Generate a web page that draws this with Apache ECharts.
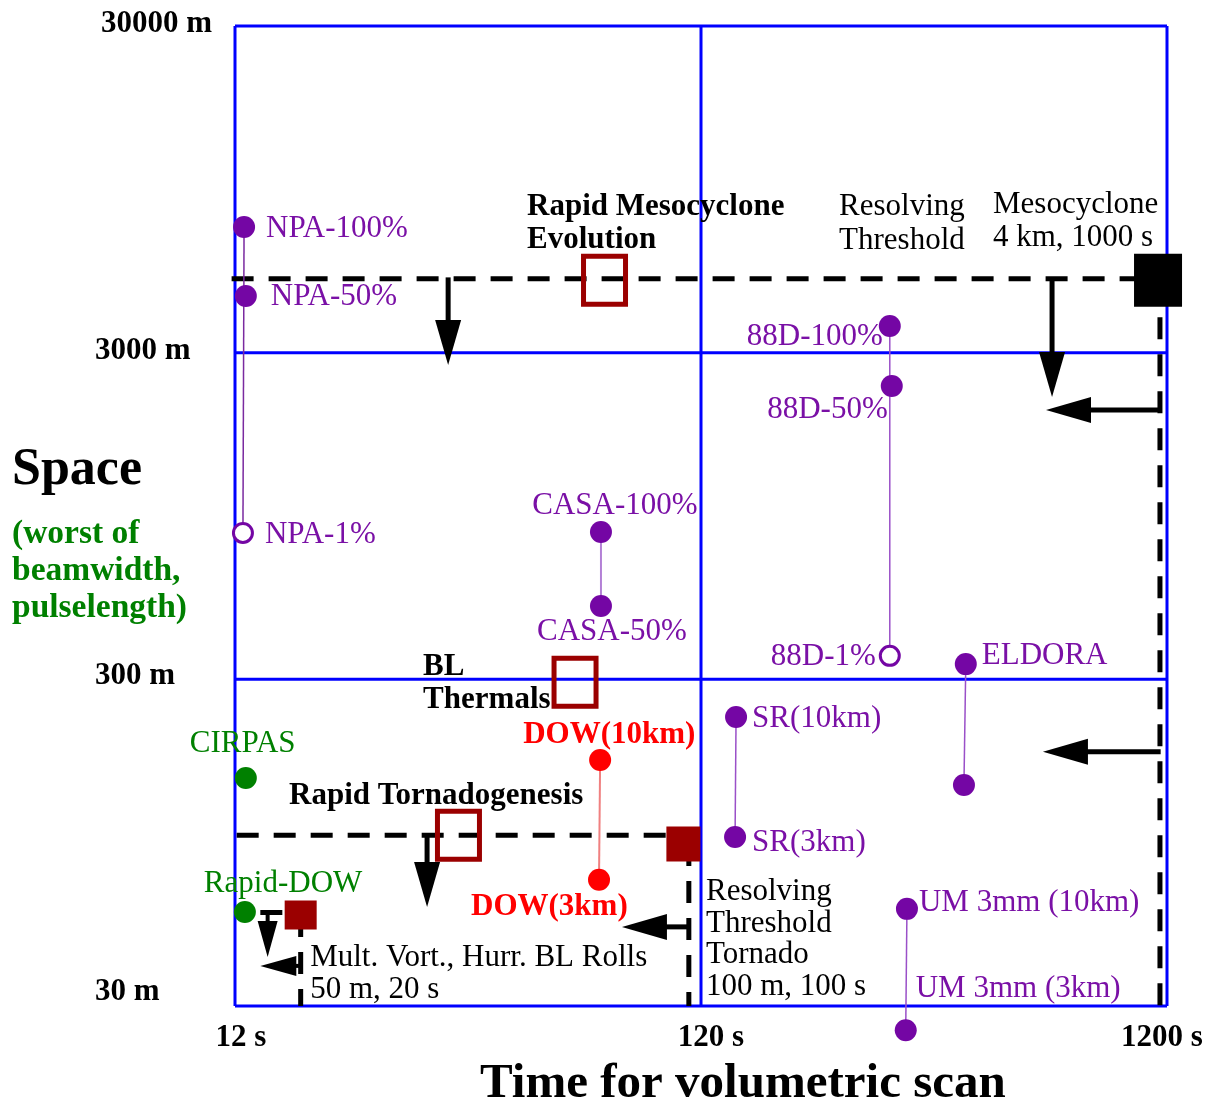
<!DOCTYPE html>
<html><head><meta charset="utf-8">
<script src="https://cdn.jsdelivr.net/npm/echarts@6/dist/echarts.min.js"></script>
<style>html,body{margin:0;padding:0;background:#fff}#c{width:1208px;height:1105px}</style>
</head><body><div id="c"></div>
<script>
// ---------- DATA (seconds, metres) ----------
const xTicks = [12, 120, 1200];
const xTickLabels = ['12 s', '120 s', '1200 s'];
const yTicks = [30, 300, 3000, 30000];
const yTickLabels = ['30 m', '300 m', '3000 m', '30000 m'];

const pointNames  = ['NPA-100%','NPA-50%','NPA-1%','CASA-100%','CASA-50%','88D-100%','88D-50%','88D-1%','ELDORA','ELDORA-low','SR(10km)','SR(3km)','UM 3mm (10km)','UM 3mm (3km)','CIRPAS','Rapid-DOW','DOW(10km)','DOW(3km)'];
const pointTimes  = [12.55, 12.66, 12.48, 73.2, 73.2, 305, 308, 305, 444, 440, 142.7, 142, 332, 330, 12.66, 12.6, 72.9, 72.5];
const pointSpaces = [7276, 4474, 842, 848, 503, 3620, 2373, 354, 334, 142.5, 230, 98.8, 59.5, 25.3, 149.7, 58.2, 170, 73];
const openPoints  = ['NPA-1%', '88D-1%'];
const connectors  = [['NPA-100%','NPA-1%'], ['CASA-100%','CASA-50%'], ['88D-100%','88D-1%'], ['ELDORA','ELDORA-low'], ['SR(10km)','SR(3km)'], ['UM 3mm (10km)','UM 3mm (3km)'], ['DOW(10km)','DOW(3km)']];

const boxNames  = ['Rapid Mesocyclone Evolution', 'BL Thermals', 'Rapid Tornadogenesis'];
const boxTimes  = [74.5, 64.4, 36.2];
const boxSpaces = [5000, 294, 100];

const thresholdNames  = ['Mesocyclone', 'Tornado', 'Mult. Vort.'];
const thresholdTimes  = [1148, 110, 16.6];
const thresholdSpaces = [5000, 94, 57];

// dashed threshold lines: [t1, m1, t2, m2]
const dashedLines = [
  [11.8, 5050, 1148, 5050],
  [1159, 5000, 1159, 30],
  [12.1, 100, 110, 100],
  [113, 94, 113, 30],
  [13.6, 58, 16.6, 58],
  [16.6, 57, 16.6, 30]
];
// arrows: [t_from, m_from, t_to, m_to]
const arrows = [
  [34.4, 5100, 34.4, 2752],
  [680, 5100, 680, 2195],
  [1163, 2003, 660, 2003],
  [1163, 180, 650, 180],
  [31, 101, 31, 60.3],
  [113, 52.4, 81.2, 52.4],
  [14.1, 58, 14.1, 42.4],
  [16.6, 39.8, 13.6, 39.8]
];

const noteLines  = [['Rapid Mesocyclone','Evolution'], ['Resolving','Threshold'], ['Mesocyclone','4 km, 1000 s'], ['BL','Thermals'], ['Rapid Tornadogenesis'], ['Mult. Vort., Hurr. BL Rolls','50 m, 20 s'], ['Resolving','Threshold','Tornado','100 m, 100 s']];
const noteTimes  = [50.8, 237.4, 507.9, 30.4, 15.67, 17.4, 123];
const noteSpaces = [8553, 8553, 8676, 334, 134.8, 43, 68.5];

// ---------- STYLE ----------
const FONT = "'Liberation Serif','Times New Roman',serif";
const FS = 31;
const PURPLE = '#7406a4', PURPLE_TXT = '#7a10a6', GREEN = '#008000', RED = '#ff0000', DARKRED = '#9b0000', BLUE = '#0000ff';
const pointColor = n => (n === 'CIRPAS' || n === 'Rapid-DOW') ? GREEN : (n.indexOf('DOW(') === 0 ? RED : PURPLE);
const labelLayout = {
  'NPA-100%': ['left', 22, 0], 'NPA-50%': ['left', 25, -1], 'NPA-1%': ['left', 22, 0],
  'CASA-100%': ['center', 14, -28], 'CASA-50%': ['center', 11, 24],
  '88D-100%': ['right', -7, 9], '88D-50%': ['right', -4, 22], '88D-1%': ['right', -14, -1],
  'ELDORA': ['left', 16, -10], 'SR(10km)': ['left', 16, 0], 'SR(3km)': ['left', 17, 4],
  'UM 3mm (10km)': ['left', 12, -8], 'UM 3mm (3km)': ['left', 10, -43],
  'CIRPAS': ['left', -56, -36], 'Rapid-DOW': ['left', -41, -30],
  'DOW(10km)': ['left', -77, -27], 'DOW(3km)': ['left', -128, 25]
};
const TEXT_DY = 2;
const connectorStyle = [['#7a2aa0', 1.5], ['#b380d6', 2], ['#9a50c8', 1.5], ['#9a50c8', 1.5], ['#9a50c8', 1.5], ['#9a50c8', 1.5], ['#f08080', 2]];
const thresholdSize = [[48, 53], [34, 35], [32, 29]];
const thresholdColor = ['#000', DARKRED, DARKRED];
const arrowSmall = [false, false, false, false, false, false, true, true];
const noteBold = [true, false, false, true, true, false, false];
const noteLH = [33, 34, 33, 33, 33, 32, 31.5];
const xLabelDx = [6, 10, -5];
const yLabelDx = [-140, -140, -140, -134];
const yLabelDy = [-16, -5, -4, -4];

const idx = n => pointNames.indexOf(n);

const chart = echarts.init(document.getElementById('c'), null, {renderer: 'canvas'});

function seg(api) {
  return [api.coord([api.value(0), api.value(1)]), api.coord([api.value(2), api.value(3)])];
}

const gridData = [];
xTicks.forEach(t => gridData.push([t, yTicks[0], t, yTicks[yTicks.length - 1]]));
yTicks.forEach(m => gridData.push([xTicks[0], m, xTicks[xTicks.length - 1], m]));

const scatterData = pointNames.map((n, i) => {
  const open = openPoints.indexOf(n) >= 0;
  const c = pointColor(n);
  const lay = labelLayout[n];
  const isDow = n.indexOf('DOW(') === 0;
  return {
    name: n,
    value: [pointTimes[i], pointSpaces[i]],
    symbolSize: open ? 19 : 22,
    itemStyle: open ? {color: '#fff', borderColor: c, borderWidth: 3, opacity: 1} : {color: c, opacity: 1},
    label: lay ? {
      show: true, formatter: n, position: 'inside', align: lay[0], verticalAlign: 'middle',
      offset: [lay[1], lay[2] + TEXT_DY], color: c === PURPLE ? PURPLE_TXT : c, opacity: 1,
      fontFamily: FONT, fontSize: FS, fontWeight: isDow ? 'bold' : 'normal'
    } : {show: false}
  };
});

const option = {
  animation: false,
  backgroundColor: '#fff',
  grid: {left: 235, right: 41, top: 26, bottom: 99, containLabel: false},
  xAxis: {type: 'log', logBase: 10, min: 12, max: 1200,
    axisLine: {show: false}, axisTick: {show: false}, axisLabel: {show: false}, splitLine: {show: false}},
  yAxis: {type: 'log', logBase: 10, min: 30, max: 30000,
    axisLine: {show: false}, axisTick: {show: false}, axisLabel: {show: false}, splitLine: {show: false}},
  graphic: [
    {type: 'text', left: 12, top: 445, style: {text: 'Space', fill: '#000', font: 'bold 52px ' + FONT}},
    {type: 'text', left: 12, top: 516, style: {text: '(worst of\nbeamwidth,\npulselength)', fill: GREEN, font: 'bold 33.5px ' + FONT, lineHeight: 37}},
    {type: 'text', left: 480, top: 1060, style: {text: 'Time for volumetric scan', fill: '#000', font: 'bold 49px ' + FONT}}
  ],
  series: [
    { // grid lines
      type: 'custom', z: 1, clip: false, silent: true,
      encode: {x: [0, 2], y: [1, 3]},
      data: gridData,
      renderItem: (p, api) => { const s = seg(api); return {type: 'line', shape: {x1: s[0][0], y1: s[0][1], x2: s[1][0], y2: s[1][1]}, style: {stroke: BLUE, lineWidth: 3}}; }
    },
    { // tick labels
      type: 'custom', z: 5, clip: false, silent: true,
      encode: {x: 0, y: 1},
      data: xTicks.map((t, i) => [t, yTicks[0], 0, i]).concat(yTicks.map((m, i) => [xTicks[0], m, 1, i])),
      renderItem: (p, api) => {
        const c = api.coord([api.value(0), api.value(1)]);
        const isY = api.value(2) === 1, i = api.value(3);
        return {type: 'text', x: isY ? c[0] + yLabelDx[i] : c[0] + xLabelDx[i], y: (isY ? c[1] + yLabelDy[i] : c[1] + 30) + TEXT_DY,
          style: {text: isY ? yTickLabels[i] : xTickLabels[i], fill: '#000', font: 'bold ' + FS + 'px ' + FONT,
            align: isY ? 'left' : 'center', verticalAlign: 'middle'}};
      }
    },
    { // dashed threshold lines
      type: 'custom', z: 3, clip: false, silent: true,
      encode: {x: [0, 2], y: [1, 3]},
      data: dashedLines,
      renderItem: (p, api) => { const s = seg(api); return {type: 'line', shape: {x1: s[0][0], y1: s[0][1], x2: s[1][0], y2: s[1][1]}, style: {stroke: '#000', lineWidth: 5, lineDash: [22, 15]}}; }
    },
    { // arrows
      type: 'custom', z: 4, clip: false, silent: true,
      encode: {x: [0, 2], y: [1, 3]},
      data: arrows,
      renderItem: (p, api) => {
        const s = seg(api), small = arrowSmall[p.dataIndex];
        const hl = small ? 36 : 45, hw = small ? 20 : 26, lw = small ? 4 : 5;
        const dx = s[1][0] - s[0][0], dy = s[1][1] - s[0][1], L = Math.hypot(dx, dy);
        const ux = dx / L, uy = dy / L, nx = -uy, ny = ux;
        const bx = s[1][0] - ux * hl, by = s[1][1] - uy * hl;
        return {type: 'group', children: [
          {type: 'line', shape: {x1: s[0][0], y1: s[0][1], x2: bx + ux * 3, y2: by + uy * 3}, style: {stroke: '#000', lineWidth: lw}},
          {type: 'polygon', shape: {points: [[s[1][0], s[1][1]], [bx + nx * hw / 2, by + ny * hw / 2], [bx - nx * hw / 2, by - ny * hw / 2]]}, style: {fill: '#000'}}
        ]};
      }
    },
    { // open boxes (phenomena)
      type: 'custom', z: 5, clip: false, silent: true,
      encode: {x: 0, y: 1},
      data: boxTimes.map((t, i) => ({name: boxNames[i], value: [t, boxSpaces[i]]})),
      renderItem: (p, api) => { const c = api.coord([api.value(0), api.value(1)]);
        return {type: 'rect', shape: {x: c[0] - 21, y: c[1] - 24, width: 42, height: 48}, style: {fill: 'none', stroke: DARKRED, lineWidth: 5}}; }
    },
    { // filled threshold squares
      type: 'custom', z: 6, clip: false, silent: true,
      encode: {x: 0, y: 1},
      data: thresholdTimes.map((t, i) => ({name: thresholdNames[i], value: [t, thresholdSpaces[i]]})),
      renderItem: (p, api) => { const c = api.coord([api.value(0), api.value(1)]); const sz = thresholdSize[p.dataIndex];
        return {type: 'rect', shape: {x: c[0] - sz[0] / 2, y: c[1] - sz[1] / 2, width: sz[0], height: sz[1]}, style: {fill: thresholdColor[p.dataIndex]}}; }
    },
    { // connectors
      type: 'custom', z: 7, clip: false, silent: true,
      encode: {x: [0, 2], y: [1, 3]},
      data: connectors.map(c => [pointTimes[idx(c[0])], pointSpaces[idx(c[0])], pointTimes[idx(c[1])], pointSpaces[idx(c[1])]]),
      renderItem: (p, api) => { const s = seg(api); const st = connectorStyle[p.dataIndex];
        return {type: 'line', shape: {x1: s[0][0], y1: s[0][1], x2: s[1][0], y2: s[1][1]}, style: {stroke: st[0], lineWidth: st[1]}}; }
    },
    { // instruments
      type: 'scatter', z: 8, clip: false, symbol: 'circle',
      itemStyle: {opacity: 1},
      emphasis: {disabled: true},
      data: scatterData
    },
    { // text notes
      type: 'custom', z: 9, clip: false, silent: true,
      encode: {x: 0, y: 1},
      data: noteTimes.map((t, i) => [t, noteSpaces[i]]),
      renderItem: (p, api) => { const c = api.coord([api.value(0), api.value(1)]); const i = p.dataIndex;
        return {type: 'text', x: c[0], y: c[1] - noteLH[i] / 2 + 1 + TEXT_DY,
          style: {text: noteLines[i].join('\n'), fill: '#000', font: (noteBold[i] ? 'bold ' : '') + FS + 'px ' + FONT,
            lineHeight: noteLH[i], align: 'left', verticalAlign: 'top'}}; }
    }
  ]
};
chart.setOption(option);
</script>
</body></html>
